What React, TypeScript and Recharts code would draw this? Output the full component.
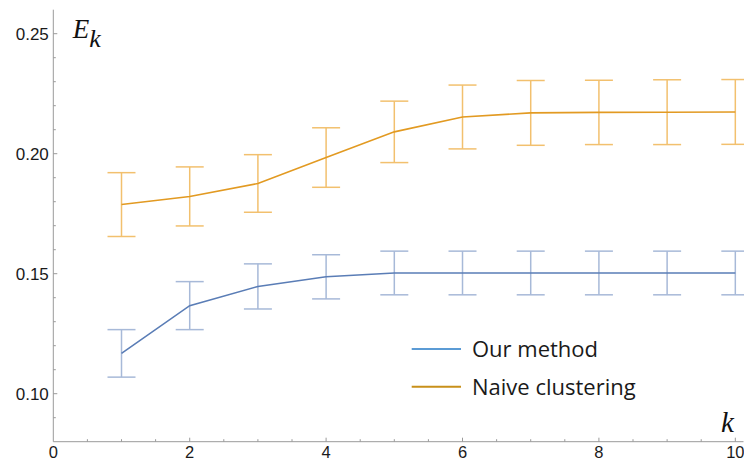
import React from "react";
import { ComposedChart, Line, XAxis, YAxis, ErrorBar, Legend, Label } from "recharts";

const kValues = [1, 2, 3, 4, 5, 6, 7, 8, 9, 10];
const ourMethod = [0.1168, 0.1367, 0.1447, 0.1487, 0.1503, 0.1503, 0.1503, 0.1503, 0.1503, 0.1503];
const ourMethodErr = [0.0099, 0.01, 0.0094, 0.0092, 0.0091, 0.0091, 0.0091, 0.0091, 0.0091, 0.0091];
const naive = [0.1788, 0.1822, 0.1876, 0.1984, 0.2091, 0.2153, 0.217, 0.2172, 0.2173, 0.2174];
const naiveErr = [0.0133, 0.0123, 0.012, 0.0124, 0.0128, 0.0133, 0.0135, 0.0134, 0.0135, 0.0135];

const xTicks = [0, 0.5, 1, 1.5, 2, 2.5, 3, 3.5, 4, 4.5, 5, 5.5, 6, 6.5, 7, 7.5, 8, 8.5, 9, 9.5, 10];
const xTickLabels = ["0", "2", "4", "6", "8", "10"];
const yTicks = [0.09, 0.1, 0.11, 0.12, 0.13, 0.14, 0.15, 0.16, 0.17, 0.18, 0.19, 0.2, 0.21, 0.22, 0.23, 0.24, 0.25];
const yTickLabels = ["0.10", "0.15", "0.20", "0.25"];

const seriesNames = ["Our method", "Naive clustering"];

const data = kValues.map((k, i) => ({
  k,
  ours: ourMethod[i],
  oursErr: ourMethodErr[i],
  naive: naive[i],
  naiveErr: naiveErr[i],
}));

const AXIS = "#9a9a9a";
const TICK_FONT = "'Liberation Sans', Arial, sans-serif";
const SERIF = "'Liberation Serif', 'Times New Roman', serif";

const XTick = (props: any) => {
  const { x, y, payload } = props;
  const label = String(payload.value);
  const major = xTickLabels.includes(label);
  return (
    <g>
      {payload.value !== 0 && (
        <line x1={x} x2={x} y1={y} y2={y - (major ? 4 : 2.5)} stroke={AXIS} strokeWidth={1} />
      )}
      {major && (
        <text x={x} y={y + 16.6} textAnchor="middle" fontFamily={TICK_FONT} fontSize={16.5} fill="#1a1a1a">
          {label}
        </text>
      )}
    </g>
  );
};

const YTick = (props: any) => {
  const { x, y, payload } = props;
  const label = Number(payload.value).toFixed(2);
  const major = yTickLabels.includes(label);
  return (
    <g>
      <line x1={x} x2={x + (major ? 4 : 2.5)} y1={y} y2={y} stroke={AXIS} strokeWidth={1} />
      {major && (
        <text x={x - 4.5} y={y + 6} textAnchor="end" fontFamily={TICK_FONT} fontSize={17} fill="#1a1a1a">
          {label}
        </text>
      )}
    </g>
  );
};

const legendColors = ["#5B9BD5", "#C8901A"];

const renderLegend = () => (
  <svg width={270} height={75} style={{ display: "block" }}>
    {seriesNames.map((name, i) => {
      const cy = i === 0 ? 19 : 56.7;
      return (
        <g key={name}>
          <line x1={6.7} x2={56} y1={cy} y2={cy} stroke={legendColors[i]} strokeWidth={2} />
          <text x={67} y={cy + 8.3} fontFamily="'Open Sans', 'Noto Sans', sans-serif" fontSize={22} fill="#1a1a1a">
            {name}
          </text>
        </g>
      );
    })}
  </svg>
);

const YLabel = (props: any) => {
  const { viewBox } = props;
  const x = viewBox.x + viewBox.width + 19.5;
  const y = viewBox.y + 28.6;
  return (
    <text x={x} y={y} fontFamily={SERIF} fontStyle="italic" fontSize={27} fill="#111">
      E<tspan dy={8.4} fontSize={26}>k</tspan>
    </text>
  );
};

const XLabel = (props: any) => {
  const { viewBox } = props;
  const x = 735.5 - 14.5;
  const y = viewBox.y - 10;
  return (
    <text x={x} y={y} fontFamily={SERIF} fontStyle="italic" fontSize={29} fill="#111">
      k
    </text>
  );
};

export default function App() {
  return (
    <div style={{ position: "absolute", left: 0, top: 0, width: 744, height: 462, background: "#fff" }}>
      <ComposedChart
        width={744}
        height={462}
        data={data}
        margin={{ top: 9.7, right: 0.5, bottom: 0, left: 0 }}
      >
        <XAxis
          dataKey="k"
          type="number"
          domain={[0, 10.12]}
          ticks={xTicks}
          interval={0}
          height={20.3}
          tickSize={0}
          tickMargin={0}
          tickLine={false}
          axisLine={{ stroke: AXIS, strokeWidth: 1 }}
          tick={<XTick />}
          allowDataOverflow
        >
          <Label content={<XLabel />} />
        </XAxis>
        <YAxis
          type="number"
          domain={[0.08, 0.26]}
          ticks={yTicks}
          interval={0}
          width={53.3}
          tickSize={0}
          tickMargin={0}
          tickLine={false}
          axisLine={{ stroke: AXIS, strokeWidth: 1 }}
          tick={<YTick />}
          allowDataOverflow
        >
          <Label content={<YLabel />} />
        </YAxis>
        <Legend
          layout="vertical"
          align="center"
          verticalAlign="middle"
          wrapperStyle={{ left: 405, top: 330, width: 270, height: 75 }}
          content={renderLegend}
        />
        <Line
          type="linear"
          dataKey="naive"
          name={seriesNames[1]}
          stroke="#E29A22"
          strokeWidth={1.6}
          dot={false}
          activeDot={false}
          isAnimationActive={false}
        >
          <ErrorBar dataKey="naiveErr" width={14} stroke="#F2C06E" strokeWidth={1.5} direction="y" isAnimationActive={false} />
        </Line>
        <Line
          type="linear"
          dataKey="ours"
          name={seriesNames[0]}
          stroke="#5A7DB6"
          strokeWidth={1.6}
          dot={false}
          activeDot={false}
          isAnimationActive={false}
        >
          <ErrorBar dataKey="oursErr" width={14} stroke="#A7B9D8" strokeWidth={1.5} direction="y" isAnimationActive={false} />
        </Line>
      </ComposedChart>
    </div>
  );
}
